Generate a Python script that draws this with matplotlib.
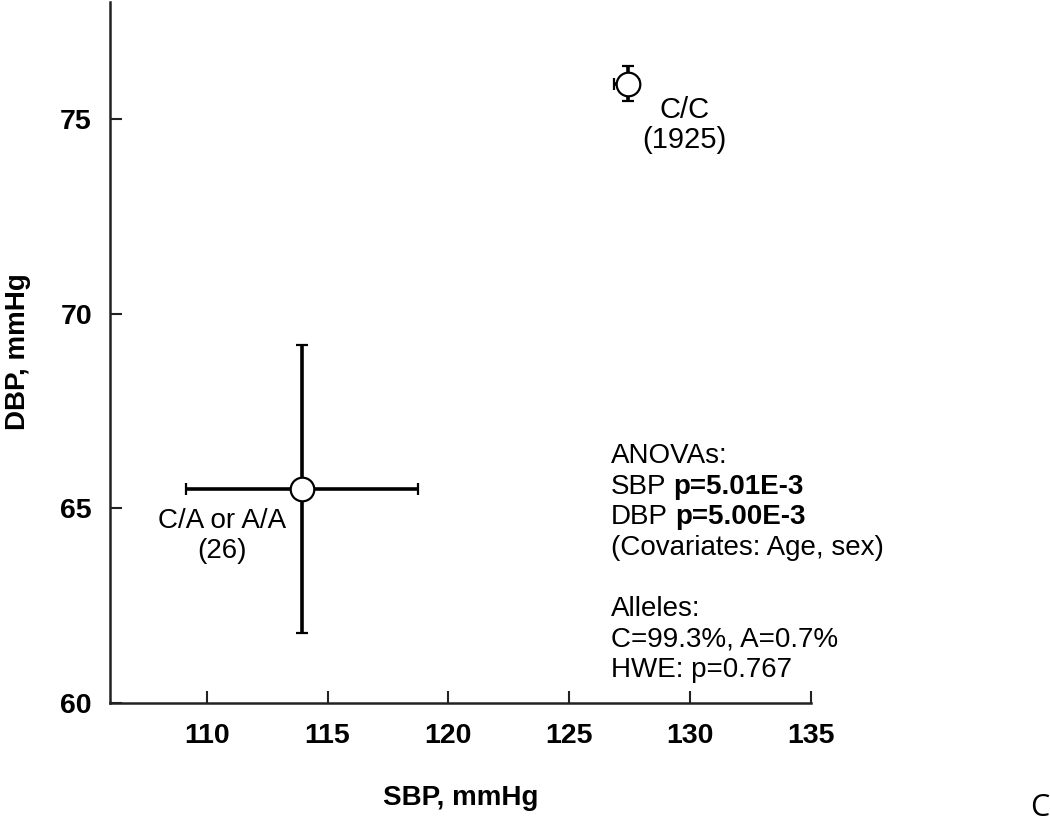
#%% import packages
import matplotlib
matplotlib.use('Agg')
import matplotlib.pyplot as plt

#%% data
genotypes = ['C/C', 'C/A or A/A']
counts = [1925, 26]
sbp_mean = [127.45, 113.95]
dbp_mean = [75.90, 65.50]
sbp_err_lo = [0.62, 4.80]
sbp_err_hi = [0.45, 4.80]
dbp_err = [0.45, 3.70]

x_ticks = [110, 115, 120, 125, 130, 135]
y_ticks = [60, 65, 70, 75]

anova_lines = [('ANOVAs:', ''),
               ('SBP', 'p=5.01E-3'),
               ('DBP', 'p=5.00E-3'),
               ('(Covariates: Age, sex)', ''),
               ('', ''),
               ('Alleles:', ''),
               ('C=99.3%, A=0.7%', ''),
               ('HWE: p=0.767', '')]

#%% figure setup
plt.rcParams['font.family'] = ['Liberation Sans', 'DejaVu Sans']
fig = plt.figure(figsize=(10.5, 8.26), dpi=100)
ax = fig.add_axes([110 / 1050, (826 - 703.3) / 826, 701 / 1050, 701.3 / 826])

ax.errorbar(sbp_mean, dbp_mean,
            xerr=[sbp_err_lo, sbp_err_hi], yerr=dbp_err,
            fmt='o', ms=17, mfc='white', mec='black', mew=1.6,
            ecolor='black', elinewidth=2.6, capsize=4, capthick=2.6,
            zorder=3)

ax.set_xlim(106, 135)
ax.set_ylim(60, 78)
ax.set_xticks(x_ticks)
ax.set_yticks(y_ticks)
ax.spines['top'].set_visible(False)
ax.spines['right'].set_visible(False)
for s in ['left', 'bottom']:
    ax.spines[s].set_linewidth(1.8)
    ax.spines[s].set_color('#222222')
ax.tick_params(axis='both', direction='in', length=8.5, width=1.5,
               color='#222222', labelsize=20.5)
ax.tick_params(axis='x', pad=14)
ax.tick_params(axis='y', pad=13)
for lab in ax.get_xticklabels() + ax.get_yticklabels():
    lab.set_fontweight('bold')

ax.set_xlabel('SBP, mmHg', fontsize=20, fontweight='bold', va='baseline')
ax.xaxis.set_label_coords(0.5, (703.3 - 805) / 701.3)
ax.set_ylabel('DBP, mmHg', fontsize=20, fontweight='bold')
ax.yaxis.set_label_coords((31 - 110) / 701, (703.3 - 352) / 701.3)

#%% genotype labels
label_pos = [(129.75, 75.02), (110.62, 64.49)]
label_size = [21, 20]
for g, n, (lx, ly), fs in zip(genotypes, counts, label_pos, label_size):
    ax.text(lx, ly, g, ha='center', va='baseline', fontsize=fs)
    ax.text(lx, ly - 0.77, '(%d)' % n, ha='center', va='baseline', fontsize=fs)

#%% ANOVA / allele annotation block
x0 = 126.73
y0 = 60 + (703.3 - 463) / 39
step = 30.5 / 39
for i_, (plain, bold) in enumerate(anova_lines):
    if plain == '':
        continue
    t_ = ax.text(x0, y0 - i_ * step, plain, ha='left', va='baseline', fontsize=20)
    if bold:
        ax.annotate(bold, xy=(1, 0), xycoords=t_, xytext=(5, 0),
                    textcoords='offset points', ha='left', va='bottom',
                    fontsize=20, fontweight='bold')

fig.text(1040 / 1050, 1 - 808 / 826, 'C', ha='center', va='center',
         fontsize=22, family=['Open Sans', 'DejaVu Sans'])

fig.savefig('out.png', dpi=100)
